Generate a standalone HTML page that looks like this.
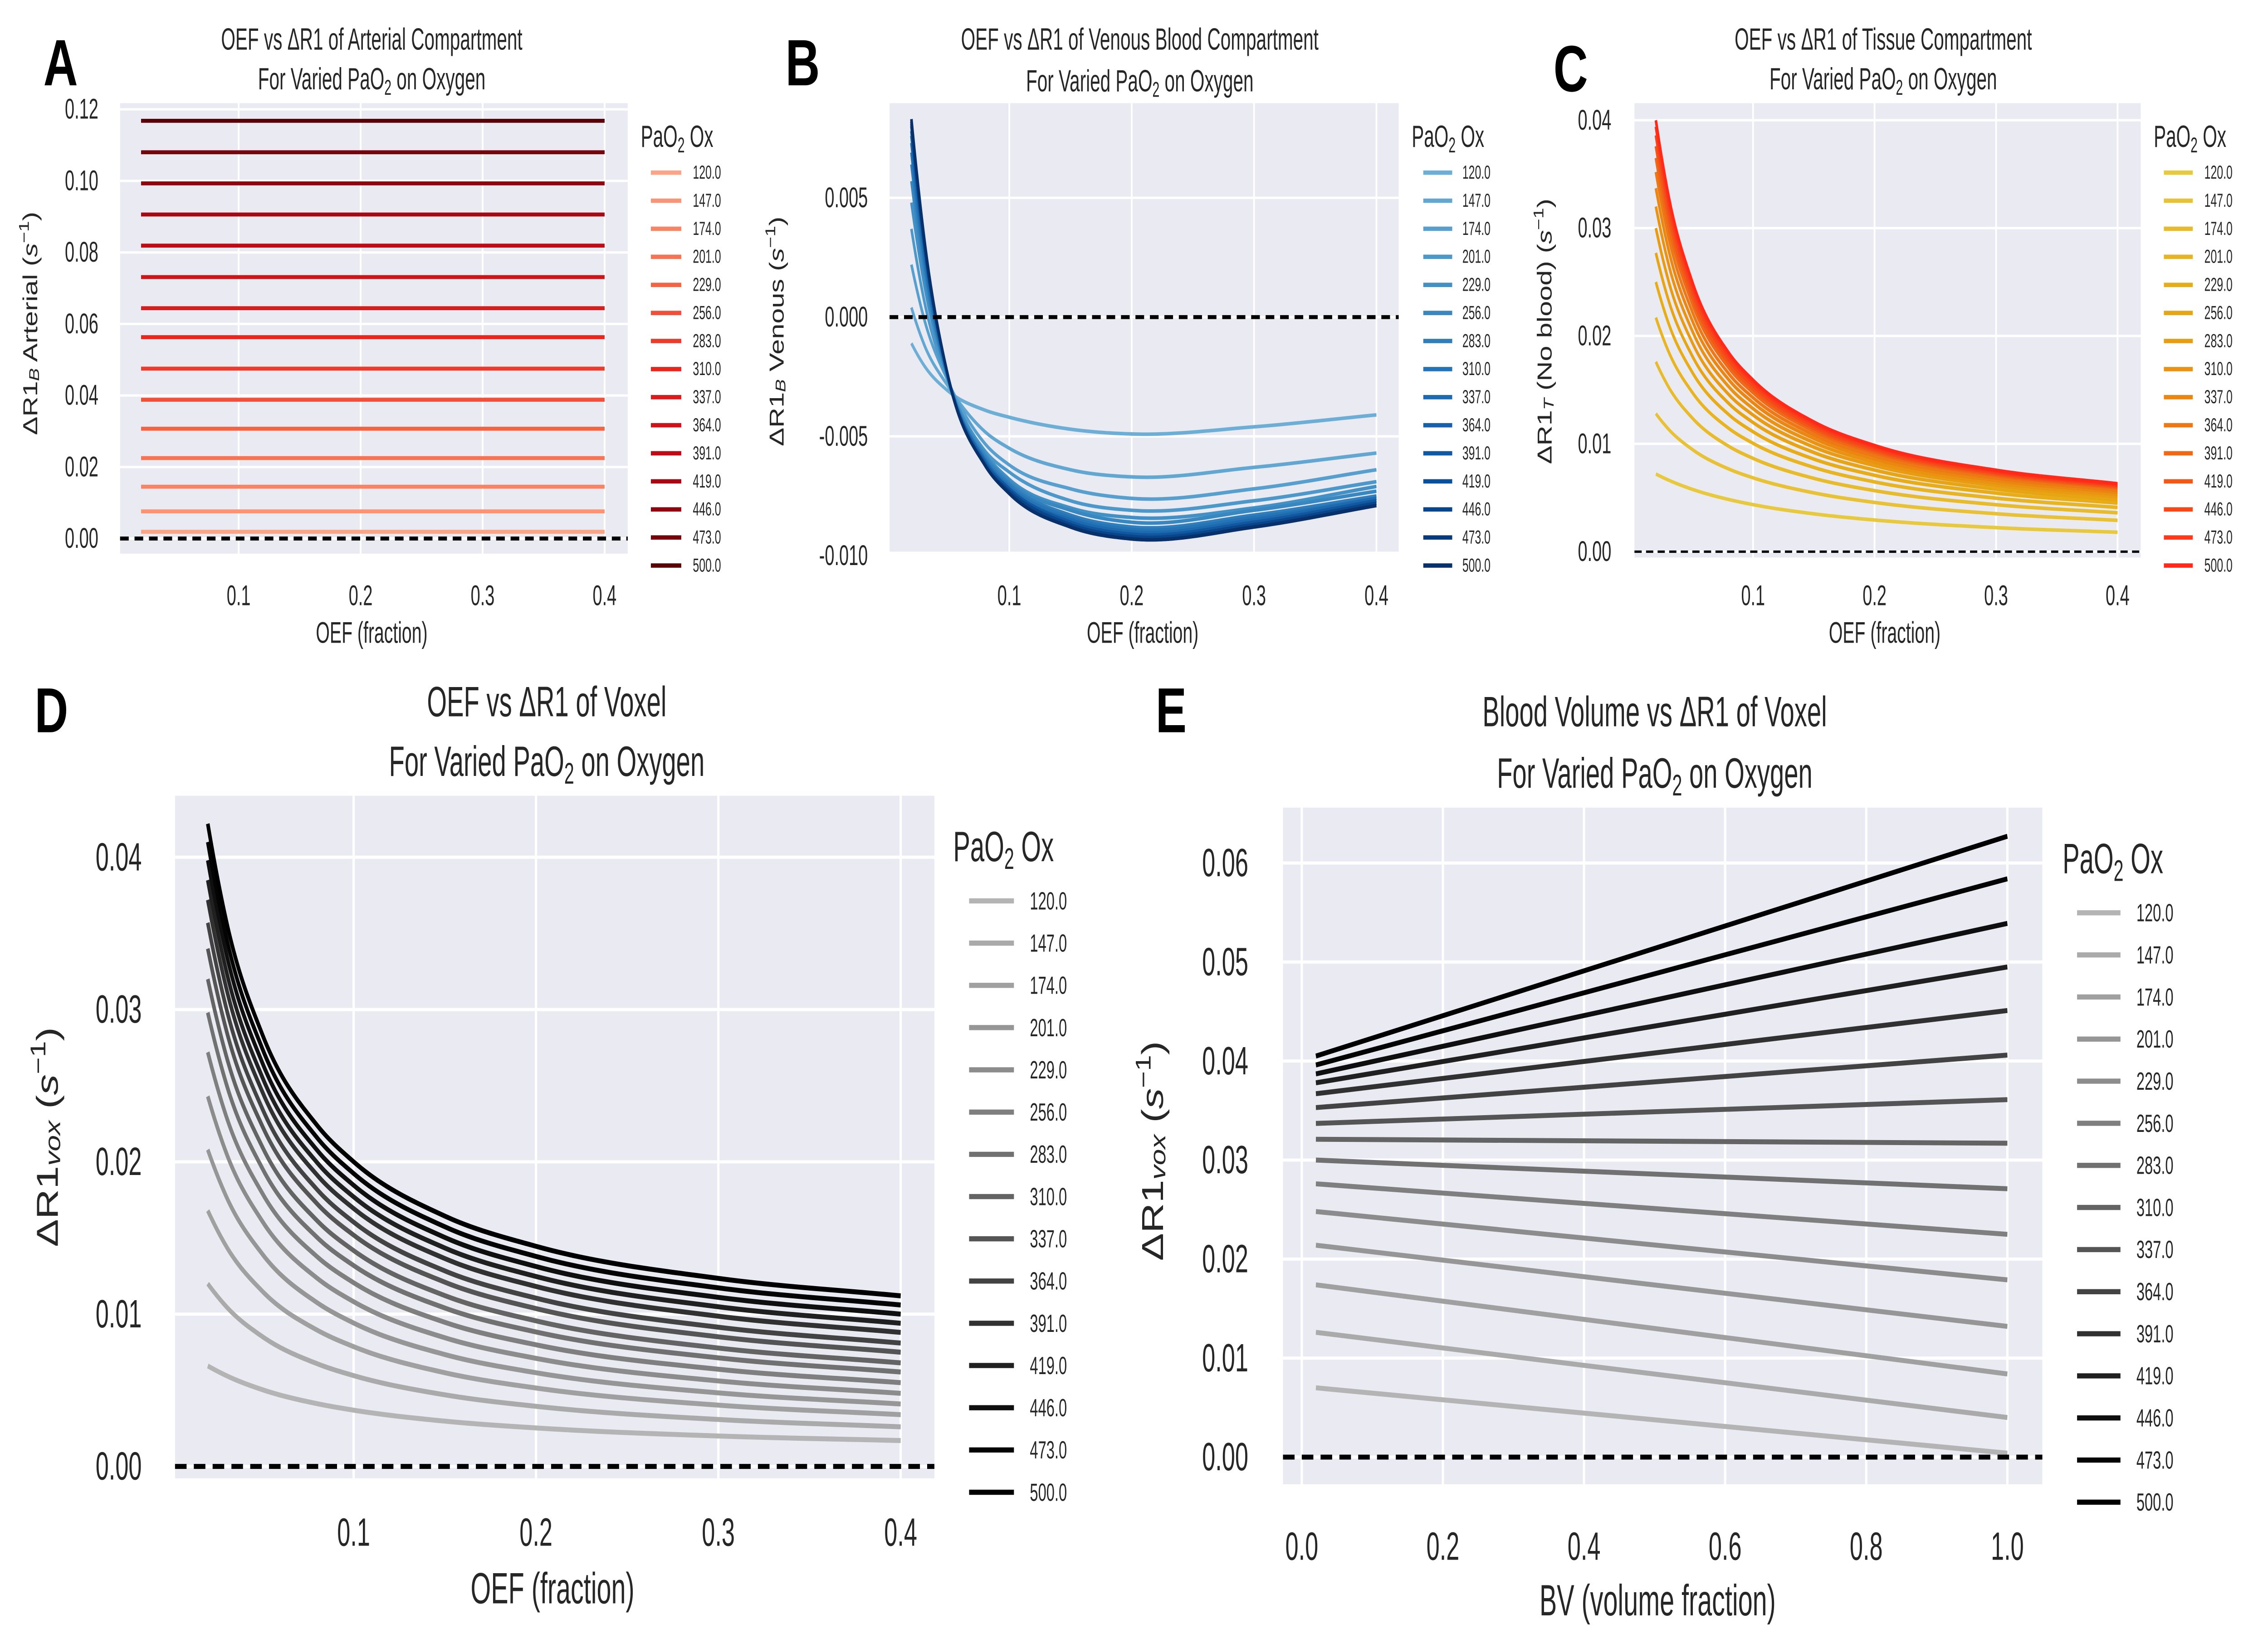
<!DOCTYPE html>
<html><head><meta charset="utf-8"><title>OEF vs ΔR1 panels</title>
<style>
html,body{margin:0;padding:0;background:#fff;overflow:hidden;width:100vw;height:100vh;}
svg{display:block;width:100vw;height:100vh;}
.n{font-family:"Liberation Sans",sans-serif;}
.w{font-family:"Liberation Sans",sans-serif;}
.lt{font-family:"Liberation Sans",sans-serif;font-weight:bold;}
</style></head>
<body>
<svg id="fig" xmlns="http://www.w3.org/2000/svg" viewBox="0 0 1568 830.5" preserveAspectRatio="none"></svg>
<script>
// ---------------- DATA ----------------
const paO2Labels = ["120.0","147.0","174.0","201.0","229.0","256.0","283.0","310.0","337.0","364.0","391.0","419.0","446.0","473.0","500.0"];
const oefGrid = [0.02,0.03,0.05,0.08,0.1,0.15,0.2,0.3,0.4];

// Panel A: constant arterial dR1 per PaO2
const arterialVals = [0.0019,0.0076,0.0145,0.0225,0.0307,0.0388,0.0475,0.0563,0.0644,0.0731,0.0819,0.0906,0.0993,0.1080,0.1168];

// Panel B: venous dR1 at each OEF grid point, per PaO2
const venousVals = [
 [-0.0011,-0.0020,-0.0031,-0.0039,-0.0042,-0.0047,-0.0049,-0.0046,-0.0041],
 [0.0004,-0.0011,-0.0029,-0.0048,-0.0055,-0.0064,-0.0067,-0.0063,-0.0057],
 [0.0022,0.0000,-0.0027,-0.0053,-0.0062,-0.0072,-0.0076,-0.0072,-0.0064],
 [0.0037,0.0008,-0.0027,-0.0056,-0.0065,-0.0077,-0.0081,-0.0077,-0.0069],
 [0.0048,0.0015,-0.0026,-0.0057,-0.0068,-0.0080,-0.0084,-0.0080,-0.0071],
 [0.0057,0.0020,-0.0026,-0.0058,-0.0069,-0.0081,-0.0086,-0.0081,-0.0073],
 [0.0064,0.0024,-0.0026,-0.0059,-0.0070,-0.0083,-0.0088,-0.0083,-0.0075],
 [0.0069,0.0026,-0.0026,-0.0060,-0.0071,-0.0084,-0.0089,-0.0084,-0.0076],
 [0.0073,0.0029,-0.0025,-0.0060,-0.0072,-0.0085,-0.0090,-0.0085,-0.0076],
 [0.0076,0.0031,-0.0025,-0.0061,-0.0072,-0.0086,-0.0091,-0.0086,-0.0077],
 [0.0078,0.0032,-0.0025,-0.0061,-0.0072,-0.0086,-0.0091,-0.0086,-0.0077],
 [0.0080,0.0033,-0.0025,-0.0062,-0.0073,-0.0087,-0.0092,-0.0087,-0.0078],
 [0.0081,0.0033,-0.0025,-0.0062,-0.0073,-0.0087,-0.0092,-0.0087,-0.0078],
 [0.0082,0.0034,-0.0025,-0.0062,-0.0074,-0.0088,-0.0093,-0.0088,-0.0079],
 [0.0083,0.0035,-0.0025,-0.0062,-0.0074,-0.0088,-0.0093,-0.0088,-0.0079]
];

// Panel C: tissue dR1 start (OEF 0.02) and end (OEF 0.4) values, plus read curve shapes
const tissueStart = [0.0072,0.0128,0.0176,0.0217,0.0250,0.0277,0.0300,0.0320,0.0337,0.0352,0.0365,0.0376,0.0386,0.0394,0.0400];
const tissueEnd = [0.0018,0.0029,0.0036,0.0041,0.0045,0.0048,0.0051,0.0053,0.0055,0.0057,0.0059,0.0060,0.0061,0.0062,0.0063];
const tissueShapeLow = [1,0.899,0.737,0.562,0.474,0.316,0.21,0.079,0];
const tissueShapeHigh = [1,0.80,0.555,0.36,0.285,0.17,0.105,0.037,0];

// Panel D: voxel dR1 start/end per PaO2, plus read curve shapes
const voxStart = [0.0066,0.0120,0.0168,0.0208,0.0243,0.0272,0.0298,0.0320,0.0340,0.0357,0.0372,0.0385,0.0398,0.0410,0.0422];
const voxEnd = [0.0017,0.0026,0.0034,0.0041,0.0048,0.0055,0.0062,0.0068,0.0075,0.0081,0.0088,0.0094,0.0100,0.0106,0.0112];
const voxShapeLow = [1,0.872,0.681,0.494,0.407,0.26,0.169,0.061,0];
const voxShapeHigh = [1,0.797,0.553,0.361,0.284,0.169,0.105,0.037,0];
const shapeMix = [0,0.4,0.6,0.72,0.8,0.85,0.9,0.93,0.95,0.97,0.98,0.99,1,1,1];

// Panel E: voxel dR1 vs BV (lines from BV 0.02 to 1.0)
const bvRange = [0.02,1.0];
const bvStart = [0.0070,0.0126,0.0174,0.0214,0.0248,0.0276,0.0300,0.0321,0.0337,0.0353,0.0367,0.0378,0.0387,0.0396,0.0405];
const bvEnd = [0.0004,0.0040,0.0084,0.0132,0.0179,0.0225,0.0271,0.0317,0.0361,0.0406,0.0451,0.0495,0.0539,0.0584,0.0627];

// ticks
const ticksA_y = [0,0.02,0.04,0.06,0.08,0.10,0.12];
const ticksA_yLab = ["0.00","0.02","0.04","0.06","0.08","0.10","0.12"];
const ticksOEF = [0.1,0.2,0.3,0.4];
const ticksOEFLab = ["0.1","0.2","0.3","0.4"];
const ticksB_y = [0.005,0,-0.005,-0.010];
const ticksB_yLab = ["0.005","0.000","-0.005","-0.010"];
const ticksC_y = [0,0.01,0.02,0.03,0.04];
const ticksC_yLab = ["0.00","0.01","0.02","0.03","0.04"];
const ticksE_y = [0,0.01,0.02,0.03,0.04,0.05,0.06];
const ticksE_yLab = ["0.00","0.01","0.02","0.03","0.04","0.05","0.06"];
const ticksE_x = [0,0.2,0.4,0.6,0.8,1.0];
const ticksE_xLab = ["0.0","0.2","0.4","0.6","0.8","1.0"];

// ---------------- RENDER ----------------
const NS = 'http://www.w3.org/2000/svg';
const svg = document.getElementById('fig');
const NARROW = 0.82;
function el(tag, attrs, parent){
  const e = document.createElementNS(NS, tag);
  for (const k in attrs) e.setAttribute(k, attrs[k]);
  (parent||svg).appendChild(e);
  return e;
}
function narrow(e, x){
  e.setAttribute('transform', 'matrix('+NARROW+',0,0,1,'+(x*(1-NARROW)).toFixed(2)+',0)');
}
function lin(v0,p0,v1,p1){ return v => p0 + (v - v0) * (p1 - p0) / (v1 - v0); }
function hex(c){ return [parseInt(c.slice(1,3),16),parseInt(c.slice(3,5),16),parseInt(c.slice(5,7),16)]; }
function ramp(stops){
  return t => {
    for (let i=0;i<stops.length-1;i++){
      const [t0,c0]=stops[i],[t1,c1]=stops[i+1];
      if (t<=t1 || i===stops.length-2){
        const f=Math.max(0,Math.min(1,(t-t0)/(t1-t0)));
        const a=hex(c0),b=hex(c1);
        return 'rgb('+a.map((v,j)=>Math.round(v+(b[j]-v)*f)).join(',')+')';
      }
    }
  };
}
const reds = ramp([[0,'#fba486'],[0.3,'#f7603f'],[0.5,'#e8261e'],[0.7,'#c20d17'],[0.85,'#92050f'],[1,'#5c0008']]);
const blues = ramp([[0,'#6caed6'],[0.3,'#3f8fc5'],[0.55,'#1f6db2'],[0.8,'#0a4d97'],[1,'#08306b']]);
const autumn = ramp([[0,'#e8c93e'],[0.3,'#e8ac14'],[0.55,'#ea8c10'],[0.8,'#f3561a'],[1,'#ff2a1a']]);
const greys = ramp([[0,'#b4b4b4'],[0.3,'#8a8a8a'],[0.55,'#5a5a5a'],[0.8,'#1c1c1c'],[0.9,'#050505'],[1,'#000000']]);

// non-uniform cubic Hermite spline in data space
function smoothPath(xs, ys, X, Y){
  const m = xs.length, h=[], d=[], s=[];
  for (let i=0;i<m-1;i++){ h.push(xs[i+1]-xs[i]); d.push((ys[i+1]-ys[i])/h[i]); }
  s[0] = d[0] + (d[0]-d[1]) * h[0]/(h[0]+h[1]);
  s[m-1] = d[m-2];
  for (let i=1;i<m-1;i++) s[i] = (d[i-1]*h[i] + d[i]*h[i-1])/(h[i-1]+h[i]);
  let p='';
  const n=24;
  for (let i=0;i<m-1;i++){
    for (let k=(i===0?0:1);k<=n;k++){
      const t=k/n, t2=t*t, t3=t2*t;
      const v=(2*t3-3*t2+1)*ys[i]+(t3-2*t2+t)*h[i]*s[i]+(-2*t3+3*t2)*ys[i+1]+(t3-t2)*h[i]*s[i+1];
      p+=(p?'L':'M')+X(xs[i]+t*h[i]).toFixed(2)+','+Y(v).toFixed(2);
    }
  }
  return p;
}

function addRich(parent, parts){
  parts.forEach(([t,st])=>{
    const ts = el('tspan', {}, parent);
    ts.textContent = t;
    if (st==='sub'||st==='itsub'){ ts.setAttribute('baseline-shift','-25%'); ts.setAttribute('font-size','70%'); }
    if (st==='sup'){ ts.setAttribute('baseline-shift','45%'); ts.setAttribute('font-size','70%'); }
    if (st==='it'||st==='itsub') ts.setAttribute('font-style','italic');
  });
}

function panel(c){
  const g = el('g', {});
  
  
  const L = el('text', {x:c.letter[0], y:c.letter[1], 'font-size':c.letterSize, class:'lt', fill:'#000'}, g);
  L.textContent = c.letter[2];
  
  
  const T = el('text', {x:c.titleX, y:c.titleY[0], 'font-size':c.titleSize, class:'n', fill:'#262626', 'text-anchor':'middle'}, g);
  T.textContent = c.title1;
  narrow(T, c.titleX);
  
  
  const T2 = el('text', {x:c.titleX, y:c.titleY[1], 'font-size':c.titleSize, class:'n', fill:'#262626', 'text-anchor':'middle'}, g);
  addRich(T2, [['For Varied PaO',''],['2','sub'],[' on Oxygen','']]);
  narrow(T2, c.titleX);
  
  
  const [x0,x1,y0,y1] = c.rect;
  const bg = el('rect', {x:x0, y:y0, width:x1-x0, height:y1-y0, fill:'#eaeaf2'}, g);
  
  
  const X = c.X, Y = c.Y;
  c.yt.forEach((v,i)=>{
    const gl = el('line', {x1:x0, x2:x1, y1:Y(v), y2:Y(v), stroke:'#fff', 'stroke-width':c.gw}, g);
    
    
    const tl = el('text', {x:c.ylabRight, y:Y(v), 'font-size':c.tickSize, class:'n', fill:'#262626', 'text-anchor':'end', 'dominant-baseline':'central'}, g);
    tl.textContent = c.ytl[i];
    narrow(tl, c.ylabRight);
    
    
  });
  c.xt.forEach((v,i)=>{
    const gl = el('line', {x1:X(v), x2:X(v), y1:y0, y2:y1, stroke:'#fff', 'stroke-width':c.gw}, g);
    
    
    const tl = el('text', {x:X(v), y:c.xtickY, 'font-size':c.tickSize, class:'n', fill:'#262626', 'text-anchor':'middle'}, g);
    tl.textContent = c.xtl[i];
    narrow(tl, X(v));
    
    
  });
  const xl = el('text', {x:c.xlab[0], y:c.xlab[1], 'font-size':c.xlabSize, class:'n', fill:'#262626', 'text-anchor':'middle'}, g);
  xl.textContent = c.xlabText;
  narrow(xl, c.xlab[0]);
  
  
  const yl = el('text', {x:c.ylab[0], y:c.ylab[1], 'font-size':c.ylabSize, class:'w', fill:'#262626', 'text-anchor':'middle', 'dominant-baseline':'central', transform:'rotate(-90 '+c.ylab[0]+' '+c.ylab[1]+')'}, g);
  addRich(yl, c.ylabParts);
  
  
  const sg = el('g', {fill:'none', 'stroke-width':c.lw, 'stroke-linecap':'butt', 'stroke-linejoin':'round'}, g);
  
  
  paO2Labels.forEach((lab,i)=>{
    const col = c.cmap(i/(paO2Labels.length-1));
    const path = el('path', {d:c.pathFor(i,X,Y), stroke:col}, sg);
    
    
  });
  const z = el('line', {x1:x0, x2:x1, y1:Y(0), y2:Y(0), stroke:'#000', 'stroke-width':c.zw, 'stroke-dasharray':c.zdash}, g);
  
  
  const lg = el('g', {}, g);
  
  
  const lt = el('text', {x:c.leg.tx, y:c.leg.ty, 'font-size':c.leg.ts, class:'n', fill:'#262626'}, lg);
  addRich(lt, [['PaO',''],['2','sub'],[' Ox','']]);
  narrow(lt, c.leg.tx);
  
  
  paO2Labels.forEach((lab,i)=>{
    const yy = c.leg.y0 + i*(c.leg.y1-c.leg.y0)/(paO2Labels.length-1);
    const eg = el('g', {}, lg);
    
    
    el('line', {x1:c.leg.lx0, x2:c.leg.lx1, y1:yy, y2:yy, stroke:c.cmap(i/(paO2Labels.length-1)), 'stroke-width':c.leg.lw}, eg);
    const t = el('text', {x:c.leg.txt, y:yy, 'font-size':c.leg.es, class:'n', fill:'#262626', 'dominant-baseline':'central'}, eg);
    t.textContent = lab;
    narrow(t, c.leg.txt);
  });
}

const sB = ['B','itsub'];
const sInv = [['(',''],['s','it'],['−1','sup'],[')','']];

panel({name:'panel-a-arterial', letter:[30,43,'A'], letterSize:33,
  title1:'OEF vs ΔR1 of Arterial Compartment', titleX:257, titleY:[25,45], titleSize:15.5,
  rect:[83,434,52,279], X:lin(0.1,165,0.4,418), Y:lin(0,271.4,0.12,55.1),
  yt:ticksA_y, ytl:ticksA_yLab, xt:ticksOEF, xtl:ticksOEFLab, gw:1.2, tickSize:14.5, ylabRight:68, xtickY:305,
  xlab:[257,324], xlabText:'OEF (fraction)', xlabSize:15, ylab:[21,163], ylabSize:14,
  ylabParts:[['ΔR1',''],sB,[' Arterial ',''],...sInv],
  lw:2, zw:2, zdash:'6 4', cmap:reds,
  pathFor:(i,X,Y)=>'M'+X(oefGrid[0])+','+Y(arterialVals[i])+'L'+X(oefGrid[oefGrid.length-1])+','+Y(arterialVals[i]),
  leg:{tx:443,ty:74,ts:15.5,y0:87,y1:285,lx0:450,lx1:471,txt:479,es:9.5,lw:2.2}
});
panel({name:'panel-b-venous', letter:[543,43,'B'], letterSize:33,
  title1:'OEF vs ΔR1 of Venous Blood Compartment', titleX:788, titleY:[25,46], titleSize:15.5,
  rect:[615,967,52,278], X:lin(0.1,697.8,0.4,951.6), Y:lin(0,159.8,-0.005,219.9),
  yt:ticksB_y, ytl:ticksB_yLab, xt:ticksOEF, xtl:ticksOEFLab, gw:1.2, tickSize:14.5, ylabRight:600, xtickY:305,
  xlab:[790,324], xlabText:'OEF (fraction)', xlabSize:15, ylab:[537,167], ylabSize:14,
  ylabParts:[['ΔR1',''],sB,[' Venous ',''],...sInv],
  lw:1.8, zw:2, zdash:'6 4', cmap:blues,
  pathFor:(i,X,Y)=>smoothPath(oefGrid, venousVals[i], X, Y),
  leg:{tx:976,ty:74,ts:15.5,y0:87,y1:285,lx0:984,lx1:1004,txt:1011,es:9.5,lw:2.2}
});
function shaped(start,end,low,high,i){
  return oefGrid.map((_,k)=>{ const gsh = low[k] + shapeMix[i]*(high[k]-low[k]); return end[i] + (start[i]-end[i])*gsh; });
}
panel({name:'panel-c-tissue', letter:[1074,46,'C'], letterSize:33,
  title1:'OEF vs ΔR1 of Tissue Compartment', titleX:1302, titleY:[25,45], titleSize:15.5,
  rect:[1130,1480,52,281], X:lin(0.1,1212,0.4,1464), Y:lin(0,278,0.04,60.6),
  yt:ticksC_y, ytl:ticksC_yLab, xt:ticksOEF, xtl:ticksOEFLab, gw:1.2, tickSize:14.5, ylabRight:1114, xtickY:305,
  xlab:[1303,324], xlabText:'OEF (fraction)', xlabSize:15, ylab:[1068,167], ylabSize:14,
  ylabParts:[['ΔR1',''],['T','itsub'],[' (No blood) ',''],...sInv],
  lw:1.8, zw:1.2, zdash:'5 3', cmap:autumn,
  pathFor:(i,X,Y)=>smoothPath(oefGrid, shaped(tissueStart,tissueEnd,tissueShapeLow,tissueShapeHigh,i), X, Y),
  leg:{tx:1489,ty:74,ts:15.5,y0:87,y1:285,lx0:1496,lx1:1516,txt:1524,es:9.5,lw:2.2}
});
panel({name:'panel-d-voxel-oef', letter:[24,369,'D'], letterSize:32,
  title1:'OEF vs ΔR1 of Voxel', titleX:378, titleY:[361,391], titleSize:21.5,
  rect:[121,646,401,745], X:lin(0.1,244.5,0.4,622.7), Y:lin(0,739,0.04,432),
  yt:ticksC_y, ytl:ticksC_yLab, xt:ticksOEF, xtl:ticksOEFLab, gw:1.6, tickSize:20, ylabRight:98, xtickY:779,
  xlab:[382,808], xlabText:'OEF (fraction)', xlabSize:22, ylab:[33,573], ylabSize:21,
  ylabParts:[['ΔR1',''],['vox','itsub'],[' ',''],...sInv],
  lw:2.5, zw:2.5, zdash:'8 5', cmap:greys,
  pathFor:(i,X,Y)=>smoothPath(oefGrid, shaped(voxStart,voxEnd,voxShapeLow,voxShapeHigh,i), X, Y),
  leg:{tx:659,ty:434,ts:21.5,y0:454,y1:752,lx0:670,lx1:701,txt:712,es:12.5,lw:2.6}
});
panel({name:'panel-e-voxel-bv', letter:[799,369,'E'], letterSize:32,
  title1:'Blood Volume vs ΔR1 of Voxel', titleX:1144, titleY:[366,397], titleSize:21.5,
  rect:[887,1412,407,748], X:lin(0,900,1,1387.8), Y:lin(0,734.3,0.06,434.9),
  yt:ticksE_y, ytl:ticksE_yLab, xt:ticksE_x, xtl:ticksE_xLab, gw:1.6, tickSize:20, ylabRight:863, xtickY:786,
  xlab:[1146,814], xlabText:'BV (volume fraction)', xlabSize:22, ylab:[797,580], ylabSize:21,
  ylabParts:[['ΔR1',''],['vox','itsub'],[' ',''],...sInv],
  lw:2.5, zw:2.5, zdash:'8 5', cmap:greys,
  pathFor:(i,X,Y)=>'M'+X(bvRange[0])+','+Y(bvStart[i])+'L'+X(bvRange[1])+','+Y(bvEnd[i]),
  leg:{tx:1426,ty:440,ts:21.5,y0:460,y1:757,lx0:1436,lx1:1466,txt:1477,es:12.5,lw:2.6}
});
</script>
</body></html>
